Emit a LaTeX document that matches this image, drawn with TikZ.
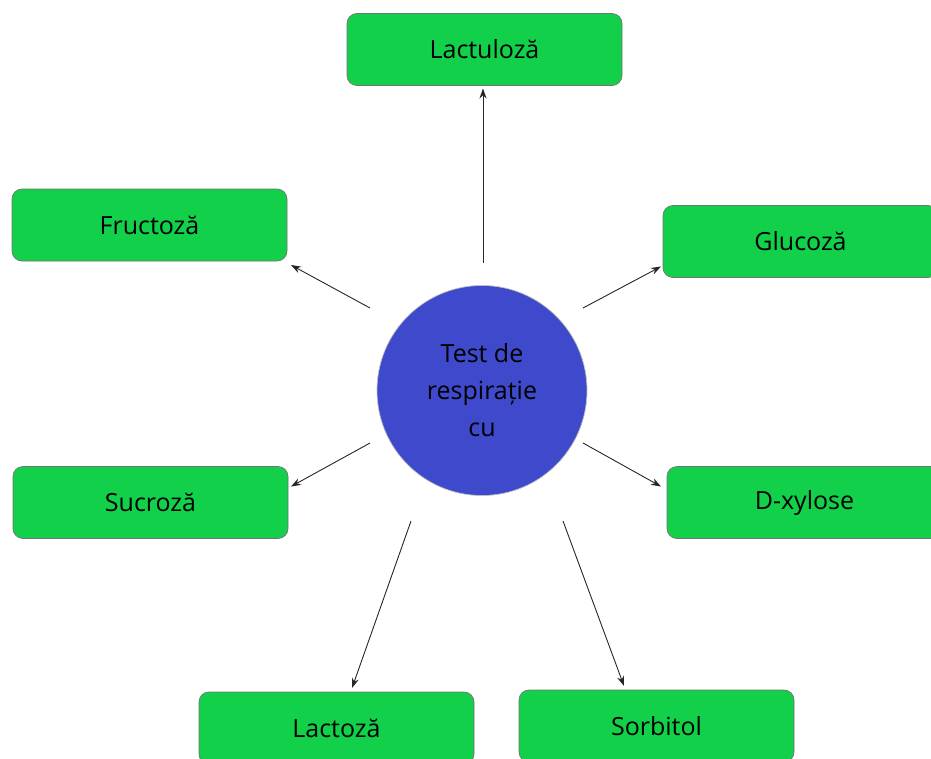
\documentclass[tikz,border=0pt]{standalone}
\usepackage{fontspec}
\setmainfont{Open Sans}
\usetikzlibrary{arrows.meta}
\definecolor{boxgreen}{HTML}{12D04A}
\definecolor{circblue}{HTML}{3E4ACB}
\tikzset{
  sugar/.style={draw=black!55, fill=boxgreen, rounded corners=10pt, line width=0.7pt,
    minimum width=275pt, minimum height=72pt, inner sep=0pt, outer sep=0pt,
    font=\fontsize{25}{30}\selectfont, text=black},
  hub/.style={circle, draw=black!25, fill=circblue, line width=0.7pt,
    minimum size=210pt, inner sep=0pt, outer sep=0pt, align=center,
    font=\fontsize{25}{37}\selectfont, text=black},
  link/.style={-{Stealth[length=10pt,width=7pt]}, line width=0.9pt, draw=black!85}
}
\begin{document}
\begin{tikzpicture}[x=1pt,y=-1pt]
\useasboundingbox (0,0) rectangle (931,758);
\clip (0,0) rectangle (931,758);
\node[hub] (hub) at (482,390.5) {Test de\\respirație\\cu};
\node[sugar] (lactu) at (484.5,49.5) {Lactuloză};
\node[sugar] (fru) at (149.5,225) {Fructoză};
\node[sugar] (glu) at (800.5,241.5) {Glucoză};
\node[sugar] (suc) at (150.5,502.5) {Sucroză};
\node[sugar] (dxy) at (804.5,502.5) {D-xylose};
\node[sugar] (lacto) at (336.5,728) {Lactoză};
\node[sugar] (sor) at (656.5,726) {Sorbitol};
\coordinate (sup) at (483,263);
\coordinate (sfr) at (370,308);
\coordinate (sgl) at (583,308);
\coordinate (ssu) at (370,443);
\coordinate (sdx) at (583,443);
\coordinate (sla) at (411,521);
\coordinate (sso) at (563,521);
\draw[link] (sup) -- ([shift={(-1.5,3)}]lactu.south);
\draw[link] (sfr) -- ([shift={(4,4)}]fru.south east);
\draw[link] (sgl) -- ([shift={(-2,-11)}]glu.south west);
\draw[link] (ssu) -- ([shift={(3,20)}]suc.north east);
\draw[link] (sdx) -- ([shift={(-6,20)}]dxy.north west);
\draw[link] (sla) -- ([shift={(15.5,-4)}]lacto.north);
\draw[link] (sso) -- ([shift={(-32.5,-4)}]sor.north);
\end{tikzpicture}
\end{document}
